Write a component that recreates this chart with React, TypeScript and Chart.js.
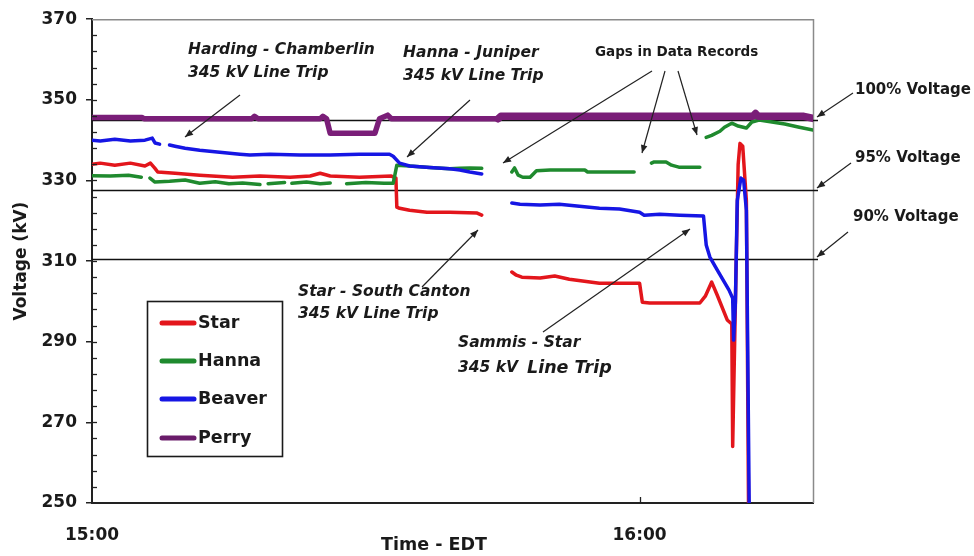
import React, { useEffect, useRef } from 'react';
import { Chart, registerables } from 'chart.js';

Chart.register(...registerables);

// ---- axis settings / labels ----
const xTickValues = [0, 60];
const xTickLabels = ['15:00', '16:00'];
const xMin = 0;
const xMax = 79;
const yMin = 250;
const yMax = 370;
const yStep = 20;
const yMinorStep = 4;
const xTitle = 'Time - EDT';
const yTitle = 'Voltage (kV)';

// ---- series (minutes after 15:00, kV) ----
const seriesNames = ['Star', 'Hanna', 'Beaver', 'Perry'];
const seriesColors = ['#e3161c', '#1f8a2e', '#1616e4', '#7a1e78'];

const starTimes = [0, 0.9, 2.5, 4.2, 5.8, 6.4, 6.9, 7.2, 9.1, 11.8, 15.4, 18.4, 21.7, 23.9, 25.0, 26.1, 29.3, 32.8, 33.3, 33.4, 33.7, 34.8, 36.7, 39.2, 42.2, 42.7, 44.3, 46.0, 46.5, 47.1, 49.1, 50.7, 52.3, 55.6, 60.0, 60.3, 61.1, 66.6, 67.2, 67.9, 68.5, 69.6, 70.1, 70.2, 70.5, 70.8, 71.0, 71.3, 71.7, 71.95];
const starVolts = [334.0, 334.3, 333.8, 334.3, 333.6, 334.3, 333.0, 332.1, 331.8, 331.3, 330.8, 331.1, 330.8, 331.1, 331.8, 331.1, 330.8, 331.1, 330.6, 323.4, 323.1, 322.6, 322.1, 322.1, 321.9, 321.4, null, 307.3, 306.5, 306.0, 305.8, 306.3, 305.5, 304.5, 304.5, 299.8, 299.6, 299.6, 301.3, 304.8, 301.6, 295.4, 294.4, 264.0, 300.0, 334.0, 339.2, 338.5, 325.0, 245.0];

const hannaTimes = [0, 2.0, 4.0, 5.4, 5.9, 6.35, 6.9, 8.5, 10.2, 11.8, 13.5, 15.0, 16.5, 18.4, 18.8, 19.3, 21.1, 21.5, 21.9, 23.5, 25.0, 26.1, 27.0, 27.9, 30.0, 32.0, 33.0, 33.4, 34.8, 37.0, 39.2, 40.3, 41.4, 42.7, 44.3, 46.0, 46.3, 46.7, 47.2, 48.0, 48.7, 50.2, 54.0, 54.3, 59.4, 59.8, 61.3, 61.6, 62.9, 63.5, 64.3, 66.6, 66.9, 67.3, 67.9, 68.8, 69.3, 70.1, 70.8, 71.7, 72.3, 73.1, 75.9, 77.5, 79];
const hannaVolts = [331.2, 331.1, 331.3, 330.8, null, 330.6, 329.6, 329.8, 330.1, 329.3, 329.7, 329.2, 329.4, 329.0, null, 329.2, 329.5, null, 329.3, 329.6, 329.2, 329.4, null, 329.2, 329.5, 329.3, 329.3, 333.8, 333.6, 333.2, 332.9, 333.0, 333.1, 333.0, null, 332.1, 333.1, 331.3, 330.8, 330.8, 332.4, 332.6, 332.6, 332.1, 332.1, null, 334.3, 334.6, 334.6, 333.8, 333.3, 333.3, null, 340.7, 341.2, 342.2, 343.2, 344.2, 343.5, 343.0, 344.5, 345.0, 344.0, 343.2, 342.5];

const beaverTimes = [0, 0.9, 2.5, 4.2, 5.8, 6.6, 6.9, 7.4, 8.0, 8.5, 9.1, 10.2, 11.8, 14.0, 16.2, 17.3, 19.5, 22.8, 26.1, 29.3, 32.6, 33.0, 33.7, 34.8, 37.0, 39.2, 40.3, 41.4, 42.7, 44.3, 46.0, 46.9, 49.1, 51.2, 53.4, 55.6, 57.8, 60.0, 60.5, 62.2, 64.4, 67.0, 67.3, 67.7, 68.5, 69.8, 70.2, 70.3, 70.5, 70.7, 71.1, 71.4, 71.7, 72.05];
const beaverVolts = [340.0, 339.8, 340.2, 339.8, 340.0, 340.5, 339.3, 339.0, null, 338.8, 338.5, 338.0, 337.5, 337.0, 336.5, 336.3, 336.5, 336.3, 336.3, 336.5, 336.5, 336.0, 334.3, 333.6, 333.2, 332.9, 332.6, 332.1, 331.6, null, 324.4, 324.1, 323.9, 324.1, 323.6, 323.1, 322.9, 322.1, 321.4, 321.6, 321.4, 321.2, 314.0, 311.0, 307.8, 302.8, 300.8, 290.4, 300.0, 325.0, 330.6, 330.1, 322.6, 240.0];

const perryTimes = [0, 5.5, 5.7, 17.5, 17.8, 18.2, 25.0, 25.3, 25.7, 26.1, 31.0, 31.5, 32.4, 32.8, 44.5, 44.8, 72.4, 72.7, 73.0, 78.0, 79];
const perryVolts = [345.6, 345.6, 345.3, 345.3, 345.9, 345.3, 345.3, 345.9, 345.3, 341.7, 341.7, 345.3, 346.2, 345.3, 345.3, 345.9, 345.9, 346.6, 345.9, 345.9, 345.4];

// reference voltage levels
const refLevels = [345, 327.75, 310.5];
const refLabels = ['100% Voltage', '95% Voltage', '90% Voltage'];

const FONT = '"DejaVu Sans", "Liberation Sans", Arial, sans-serif';
const TEXT = '#1a1a1a';

const toPoints = (ts: number[], vs: (number | null)[]) => ts.map((t, i) => ({ x: t, y: vs[i] }));

function arrow(ctx: CanvasRenderingContext2D, x1: number, y1: number, x2: number, y2: number) {
  ctx.beginPath();
  ctx.moveTo(x1, y1);
  ctx.lineTo(x2, y2);
  ctx.stroke();
  const a = Math.atan2(y2 - y1, x2 - x1);
  const L = 8, W = 3.3;
  ctx.beginPath();
  ctx.moveTo(x2, y2);
  ctx.lineTo(x2 - L * Math.cos(a) + W * Math.sin(a), y2 - L * Math.sin(a) - W * Math.cos(a));
  ctx.lineTo(x2 - L * Math.cos(a) - W * Math.sin(a), y2 - L * Math.sin(a) + W * Math.cos(a));
  ctx.closePath();
  ctx.fill();
}

function text(ctx: CanvasRenderingContext2D, s: string, x: number, y: number, font: string, align: CanvasTextAlign = 'left') {
  ctx.font = font;
  ctx.textAlign = align;
  ctx.textBaseline = 'middle';
  ctx.fillText(s, x, y);
}

const overlay = {
  id: 'overlay',
  beforeDatasetsDraw(chart: any) {
    const { ctx, chartArea, scales } = chart;
    const y = scales.y;
    ctx.save();
    ctx.strokeStyle = '#8a8a8a';
    ctx.lineWidth = 1.5;
    ctx.beginPath();
    ctx.moveTo(chartArea.left, chartArea.top + 0.5);
    ctx.lineTo(chartArea.right + 0.5, chartArea.top + 0.5);
    ctx.lineTo(chartArea.right + 0.5, chartArea.bottom);
    ctx.stroke();
    ctx.strokeStyle = '#111';
    ctx.lineWidth = 1.6;
    refLevels.forEach((v) => {
      const py = Math.round(y.getPixelForValue(v)) + 0.5;
      ctx.beginPath();
      ctx.moveTo(chartArea.left, py);
      ctx.lineTo(chartArea.right + 5, py);
      ctx.stroke();
    });
    ctx.restore();
  },
  afterDraw(chart: any) {
    const { ctx, chartArea, scales } = chart;
    const y = scales.y;
    const x = scales.x;
    ctx.save();
    ctx.strokeStyle = '#222';
    ctx.lineWidth = 1.3;
    for (let v = yMin + yMinorStep; v < yMax; v += yMinorStep) {
      const py = Math.round(y.getPixelForValue(v)) + 0.5;
      ctx.beginPath();
      ctx.moveTo(chartArea.left, py);
      ctx.lineTo(chartArea.left + 5, py);
      ctx.stroke();
    }
    const px = Math.round(x.getPixelForValue(xTickValues[1])) + 0.5;
    ctx.beginPath();
    ctx.moveTo(px, chartArea.bottom);
    ctx.lineTo(px, chartArea.bottom - 6);
    ctx.stroke();

    ctx.fillStyle = TEXT;
    text(ctx, xTitle, 434, 545, `bold 17.5px ${FONT}`, 'center');

    const ann = `italic bold 15.5px ${FONT}`;
    text(ctx, 'Harding - Chamberlin', 188, 50, ann);
    text(ctx, '345 kV Line Trip', 188, 73, ann);
    text(ctx, 'Hanna - Juniper', 403, 53, ann);
    text(ctx, '345 kV Line Trip', 403, 76, ann);
    text(ctx, 'Star - South Canton', 298, 292, ann);
    text(ctx, '345 kV Line Trip', 298, 314, ann);
    text(ctx, 'Sammis - Star', 458, 343, ann);
    text(ctx, '345 kV', 458, 368, ann);
    text(ctx, 'Line Trip', 527, 368, `italic bold 17.5px ${FONT}`);
    text(ctx, 'Gaps in Data Records', 595, 52, `bold 13.5px ${FONT}`);
    const refFont = `bold 15px ${FONT}`;
    text(ctx, refLabels[0], 855, 90, refFont);
    text(ctx, refLabels[1], 855, 158, refFont);
    text(ctx, refLabels[2], 853, 217, refFont);

    ctx.strokeStyle = '#222';
    ctx.fillStyle = '#222';
    ctx.lineWidth = 1.2;
    arrow(ctx, 240, 95, 185, 137);
    arrow(ctx, 470, 100, 407, 157);
    arrow(ctx, 652, 71, 503, 163);
    arrow(ctx, 665, 71, 642, 153);
    arrow(ctx, 678, 71, 697, 135);
    arrow(ctx, 422, 287, 478, 230);
    arrow(ctx, 543, 332, 690, 229);
    arrow(ctx, 853, 93, 817, 117);
    arrow(ctx, 851, 163, 817, 188);
    arrow(ctx, 848, 232, 817, 257);

    const lx = 147, ly = 301, lw = 135, lh = 155;
    ctx.fillStyle = '#fff';
    ctx.fillRect(lx, ly, lw, lh);
    ctx.strokeStyle = '#1a1a1a';
    ctx.lineWidth = 1.6;
    ctx.strokeRect(lx + 0.5, ly + 0.5, lw, lh);
    const rows = [323, 361, 399, 438];
    seriesNames.forEach((name, i) => {
      ctx.strokeStyle = i === 3 ? '#6a1c6a' : seriesColors[i];
      ctx.lineWidth = 5;
      ctx.lineCap = 'round';
      ctx.beginPath();
      ctx.moveTo(162, rows[i]);
      ctx.lineTo(194, rows[i]);
      ctx.stroke();
      ctx.fillStyle = TEXT;
      text(ctx, name, 198, rows[i], `bold 17.5px ${FONT}`);
    });
    ctx.restore();
  },
};

export default function App() {
  const ref = useRef<HTMLCanvasElement | null>(null);
  useEffect(() => {
    if (!ref.current) return;
    const mk = (i: number, ts: number[], vs: (number | null)[], w: number, extra: any = {}) => ({
      label: seriesNames[i],
      data: toPoints(ts, vs),
      borderColor: seriesColors[i],
      backgroundColor: seriesColors[i],
      borderWidth: w,
      pointRadius: 0,
      tension: 0,
      spanGaps: false,
      borderJoinStyle: 'round',
      borderCapStyle: 'round',
      ...extra,
    });
    const chart = new Chart(ref.current, {
      type: 'line',
      data: {
        datasets: [
          mk(3, perryTimes, perryVolts, 5.5, { segment: { borderWidth: (c: any) => (c.p0.parsed.x >= 44.5 ? 7.5 : 5.5) } }),
          mk(2, beaverTimes, beaverVolts, 3.5),
          mk(1, hannaTimes, hannaVolts, 3.5),
          mk(0, starTimes, starVolts, 3.5),
        ] as any,
      },
      options: {
        responsive: false,
        animation: false,
        devicePixelRatio: 1,
        layout: { padding: { left: 0, right: 161, top: 19, bottom: 0 } },
        plugins: { legend: { display: false }, tooltip: { enabled: false } },
        scales: {
          x: {
            type: 'linear',
            min: xMin,
            max: xMax,
            afterBuildTicks: (s: any) => {
              s.ticks = xTickValues.map((v) => ({ value: v }));
            },
            afterFit: (s: any) => {
              s.height = 53;
            },
            ticks: {
              autoSkip: false,
              maxRotation: 0,
              padding: 22,
              color: TEXT,
              font: { family: FONT, weight: 'bold', size: 17 },
              callback: (v: any) => {
                const k = xTickValues.indexOf(Number(v));
                return k >= 0 ? xTickLabels[k] : '';
              },
            },
            grid: { display: false, drawTicks: false },
            border: { display: true, color: '#222', width: 2 },
          },
          y: {
            min: yMin,
            max: yMax,
            afterFit: (s: any) => {
              s.width = 92;
            },
            ticks: {
              stepSize: yStep,
              padding: 9,
              color: TEXT,
              font: { family: FONT, weight: 'bold', size: 17 },
            },
            grid: { drawOnChartArea: false, drawTicks: true, tickLength: 6, color: '#222', lineWidth: 1.5 },
            border: { display: true, color: '#222', width: 2 },
            title: {
              display: true,
              text: yTitle,
              color: TEXT,
              font: { family: FONT, weight: 'bold', size: 17 },
              padding: { top: 11, bottom: 0 },
            },
          },
        },
      } as any,
      plugins: [overlay],
    });
    return () => chart.destroy();
  }, []);
  return (
    <div style={{ position: 'fixed', left: 0, top: 0, width: 974, height: 556, background: '#fff' }}>
      <canvas ref={ref} width={974} height={556} style={{ display: 'block' }} />
    </div>
  );
}
